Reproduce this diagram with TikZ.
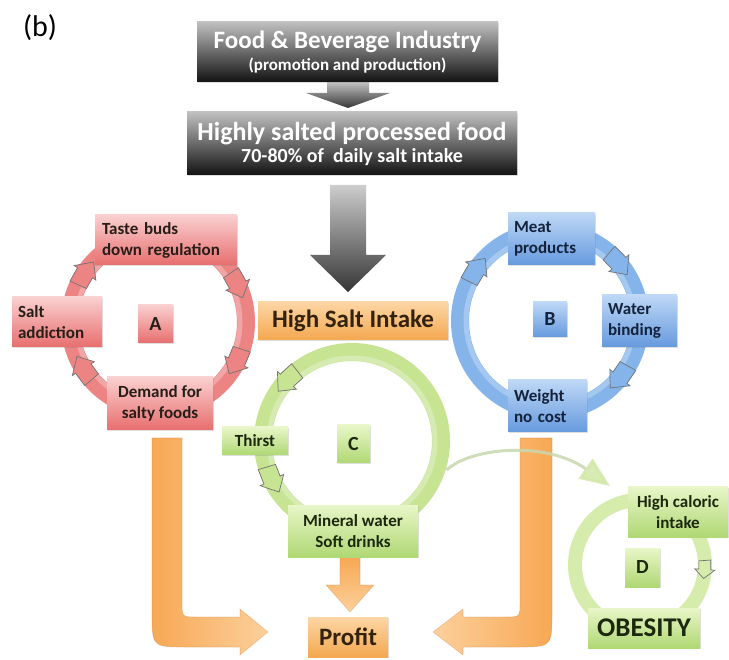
\documentclass[tikz,border=0pt]{standalone}
\usepackage{fontspec}
\setmainfont{Carlito}
\usetikzlibrary{arrows.meta,shadows,calc}

\definecolor{redR}{RGB}{236,132,132}
\definecolor{redT}{RGB}{250,208,208}
\definecolor{redB}{RGB}{232,110,110}
\definecolor{bluR}{RGB}{132,180,234}
\definecolor{bluT}{RGB}{190,216,246}
\definecolor{bluB}{RGB}{102,154,222}
\definecolor{grnR}{RGB}{198,228,146}
\definecolor{grnT}{RGB}{232,246,200}
\definecolor{grnB}{RGB}{176,216,116}
\definecolor{grnD}{RGB}{214,236,172}
\definecolor{orT}{RGB}{252,214,164}
\definecolor{orB}{RGB}{244,168,80}
\definecolor{orA}{RGB}{247,168,84}
\definecolor{orL}{RGB}{252,208,156}
\definecolor{gyT}{RGB}{192,192,192}
\definecolor{gyB}{RGB}{18,18,18}
\definecolor{txtD}{RGB}{38,30,24}
\definecolor{cdline}{RGB}{200,216,176}
\definecolor{cdhead}{RGB}{210,232,168}

\newcommand{\chev}[6]{%
 \path[fill=#5, draw=black!55, line width=0.7pt, shift={#1}]
 ({#3-(#4)}:{#2-#6}) -- ({#3-(#4)}:{#2+#6}) -- (#3:{#2+#6}) -- (#3:{#2+#6+4})
 -- ({#3+(#4)}:#2) -- (#3:{#2-#6-4}) -- (#3:{#2-#6}) -- cycle;}

\tikzset{
 box/.style={inner sep=0pt, text=txtD, font=\fontsize{17}{21}\selectfont\bfseries,
   drop shadow={shadow xshift=1.2pt, shadow yshift=-1.2pt, opacity=0.25}},
 redbox/.style={box, top color=redT, bottom color=redB},
 blubox/.style={box, top color=bluT, bottom color=bluB, text={rgb,255:red,20;green,34;blue,60}},
 grnbox/.style={box, top color=grnT, bottom color=grnB, text={rgb,255:red,28;green,40;blue,14}},
 orbox/.style={box, top color=orT, bottom color=orB, text={rgb,255:red,50;green,34;blue,14}},
 gybox/.style={box, top color=gyT, bottom color=gyB, text=white},
 letter/.style={font=\fontsize{20}{20}\selectfont\bfseries},
 ring/.style={line width=18pt},
 grayarrow/.style={top color=gyT!80!white, bottom color=gyB!85!white},
 orarrow/.style={left color=orA, right color=orL, draw=orA!80!black, draw opacity=0.35, line width=0.6pt},
}

\begin{document}
\begin{tikzpicture}[x=1pt,y=-1pt]
\useasboundingbox (0,0) rectangle (729,660);
\fill[white] (0,0) rectangle (729,660);

% centres of the rings
\coordinate (cA) at (158,322);
\coordinate (cB) at (550,321);
\coordinate (cC) at (352,441);
\coordinate (cD) at (640,565);

% rings
\draw[ring, redR] (cA) circle[radius=88];
\draw[line width=5pt, redR!55!white, opacity=0.6] (cA) circle[radius=82];
\draw[ring, bluR] (cB) circle[radius=90];
\draw[line width=5pt, bluR!55!white, opacity=0.6] (cB) circle[radius=84];
\draw[ring, grnR] (cC) circle[radius=89];
\draw[line width=5pt, grnR!50!white, opacity=0.6] (cC) circle[radius=83];
\draw[line width=14pt, grnD] (cD) circle[radius=65];

% chevrons on the rings
\chev{(158,322)}{88}{214}{9}{redR}{9}
\chev{(158,322)}{88}{-25}{9}{redR}{9}
\chev{(158,322)}{88}{27}{9}{redR}{9}
\chev{(158,322)}{88}{148}{9}{redR}{9}
\chev{(550,321)}{90}{215}{9}{bluR}{9}
\chev{(550,321)}{90}{-40}{9}{bluR}{9}
\chev{(550,321)}{90}{39}{9}{bluR}{9}
\chev{(352,441)}{89}{223}{-9}{grnR}{9}
\chev{(352,441)}{89}{154}{-9}{grnR}{9}
\chev{(640,565)}{65}{4}{8}{grnD}{6}

% orange L arrows
\path[orarrow] (152,438) -- (182,438) -- (182,602) .. controls (182,617) .. (197,617)
  -- (240,617) -- (240,609) -- (268,632) -- (240,655) -- (240,647) -- (187,647)
  .. controls (152,647) .. (152,612) -- cycle;
\path[orarrow, left color=orL, right color=orA] (552,438) -- (520,438) -- (520,602) .. controls (520,617) .. (505,617)
  -- (463,617) -- (463,609) -- (433,632) -- (463,655) -- (463,647) -- (517,647)
  .. controls (552,647) .. (552,612) -- cycle;
\path[orarrow, top color=orA, bottom color=orL] (340,557) -- (360,557) -- (360,585) -- (374,585) -- (350,612)
  -- (326,585) -- (340,585) -- cycle;

% gray arrows
\path[grayarrow] (327,80) -- (369,80) -- (369,93) -- (390,93) -- (348,108) -- (306,93) -- (327,93) -- cycle;
\path[grayarrow] (330,185) -- (366,185) -- (366,255) -- (386,255) -- (348,292) -- (310,255) -- (330,255) -- cycle;

% label
\node[font=\fontsize{30}{30}\selectfont] (lab) at (40,28) {(b)};

% top boxes
\node[gybox, minimum width=301pt, minimum height=60pt, align=center] (fbi) at (347.5,52)
 {{\fontsize{25}{28}\selectfont Food \& Beverage Industry}\\[1pt]{\fontsize{17}{20}\selectfont\bfseries (promotion and production)}};
\node[gybox, minimum width=330pt, minimum height=63pt, align=center] (hsp) at (352,143.5)
 {{\fontsize{26}{29}\selectfont Highly salted processed food}\\[1pt]{\fontsize{20}{23}\selectfont\bfseries 70-80\% of~ daily salt intake}};

% central boxes
\node[orbox, minimum width=190pt, minimum height=38pt, font=\fontsize{25}{28}\selectfont\bfseries] (hsi) at (353,321) {High Salt Intake};
\node[orbox, minimum width=80pt, minimum height=40pt, font=\fontsize{25}{28}\selectfont\bfseries] (profit) at (348,637) {Profit};

% cycle A
\node[redbox, minimum width=142pt, minimum height=50pt, text width=128pt, align=left] (taste) at (166,240) {Taste buds\\down regulation};
\node[redbox, minimum width=90pt, minimum height=50pt, text width=78pt, align=left] (addict) at (57,322) {Salt\\addiction};
\node[redbox, minimum width=35pt, minimum height=38pt, letter] (A) at (155.5,324) {A};
\node[redbox, minimum width=106pt, minimum height=53pt, align=center] (demand) at (160,403.5) {Demand for\\salty foods};

% cycle B
\node[blubox, minimum width=87pt, minimum height=52pt, text width=75pt, align=left] (meat) at (551.5,239) {Meat\\products};
\node[blubox, minimum width=75pt, minimum height=52pt, text width=63pt, align=left] (water) at (639.5,321) {Water\\binding};
\node[blubox, minimum width=34pt, minimum height=35pt, letter] (B) at (550,319.5) {B};
\node[blubox, minimum width=79pt, minimum height=52pt, text width=67pt, align=left] (weight) at (547.5,406) {Weight\\no cost};

% cycle C
\node[grnbox, minimum width=66pt, minimum height=28pt] (thirst) at (255,441) {Thirst};
\node[grnbox, minimum width=33pt, minimum height=38pt, letter] (C) at (353.5,444) {C};
\node[grnbox, minimum width=130pt, minimum height=52pt, align=center] (mineral) at (353,531) {Mineral water\\Soft drinks};

% C to D arrow
\coordinate (cdS) at ($(cC)+(17:99)$);
\coordinate (cdE) at (610,486);
\draw[line width=3pt, cdline, opacity=0.85,
  -{Triangle[length=30pt,width=24pt,fill=cdhead,color=cdhead]}]
  (cdS) .. controls (470,448) and (545,440) .. (cdE);

% cycle D
\node[grnbox, minimum width=100pt, minimum height=50pt, align=center] (hci) at (678,512) {High caloric\\intake};
\node[grnbox, minimum width=35pt, minimum height=39pt, letter] (D) at (642.5,567.5) {D};
\node[grnbox, minimum width=112pt, minimum height=40pt, font=\fontsize{27}{30}\selectfont\bfseries] (obesity) at (644,628) {OBESITY};
\end{tikzpicture}
\end{document}
